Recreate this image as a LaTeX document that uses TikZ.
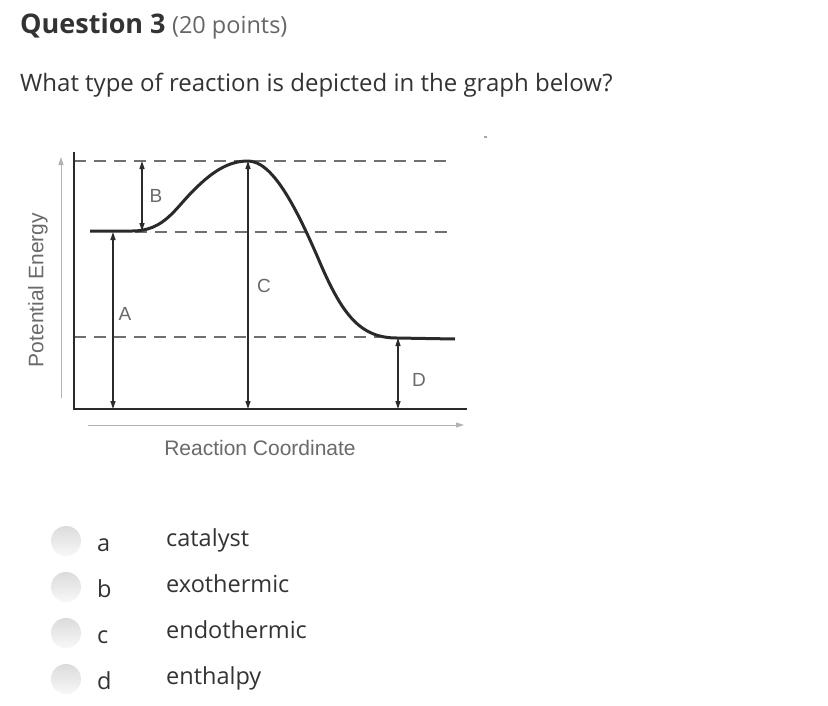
\documentclass[tikz,border=0pt]{standalone}
\usepackage{fontspec}
\setmainfont{Open Sans}
\newfontfamily\graphfont{Liberation Sans}
\usetikzlibrary{arrows.meta}
\definecolor{qtext}{HTML}{333333}
\definecolor{qgray}{HTML}{666666}
\definecolor{gline}{HTML}{2A2A2A}
\definecolor{gdash}{HTML}{707070}
\definecolor{glabel}{HTML}{6A6A6A}
\tikzset{
  title/.style={anchor=base west, inner sep=0pt, text=qtext},
  dimarrow/.style={draw=gline, line width=1.2pt, {Triangle[length=8pt,width=5pt]}-{Triangle[length=8pt,width=5pt]}},
  guide/.style={draw=gdash, line width=1.5pt, dash pattern=on 12pt off 8pt},
  axisarrow/.style={draw=gray!60, line width=1pt, -{Triangle[length=8pt,width=5pt]}},
  glbl/.style={font=\graphfont\fontsize{19}{19}\selectfont, text=glabel, inner sep=0pt},
  radio/.style={top color=gray!28, bottom color=gray!6, draw=none},
  opt/.style={anchor=base west, inner sep=0pt, text=qtext, font=\fontsize{23.5}{23.5}\selectfont}
}
\begin{document}
\begin{tikzpicture}[x=1pt,y=-1pt]
\useasboundingbox[fill=white] (0,0) rectangle (828,705);
% header
\node[title, font=\bfseries\fontsize{27}{27}\selectfont] (q) at (20,33) {Question 3};
\node[title, font=\fontsize{23.5}{23.5}\selectfont, text=qgray] (pts) at ([xshift=6pt]q.base east) {(20 points)};
\node[title, font=\fontsize{24}{24}\selectfont] (ask) at (20,91) {What type of reaction is depicted in the graph below?};
\node[fill=gray!70, minimum width=3pt, minimum height=1.5pt, inner sep=0pt] (dot) at (485,137) {};
% graph coordinates
\coordinate (O) at (74,409);
\coordinate (Ytop) at (74,152);
\coordinate (Xend) at (467,409);
\coordinate (hiL) at (74,161); \coordinate (hiR) at (452,161);
\coordinate (midL) at (135,232); \coordinate (midR) at (452,232);
\coordinate (loL) at (74,337); \coordinate (loR) at (380,337);
% dashed guide lines
\draw[guide] (hiL) -- (hiR);
\draw[guide] (midL) -- (midR);
\draw[guide] (loL) -- (loR);
% axes
\draw[gline, line width=2pt] (Ytop) -- (O) -- (Xend);
\coordinate (ya) at (61,398); \coordinate (yb) at (61,157);
\draw[axisarrow] (ya) -- (yb);
\coordinate (xa) at (88,425); \coordinate (xb) at (464,425);
\draw[axisarrow] (xa) -- (xb);
% energy curve
\coordinate (s0) at (90,231);
\coordinate (s1) at (132,231);
\coordinate (pk) at (248,161);
\coordinate (pr) at (397,338);
\coordinate (s2) at (455,339);
\draw[gline, line width=3pt] (s0) -- (s1) .. controls (165,231) and (175,208) .. (195,189) .. controls (214,170) and (230,161) .. (pk) .. controls (272,161) and (295,205) .. (318,258) .. controls (342,315) and (360,338) .. (pr) -- (s2);
% dimension arrows
\coordinate (a1) at (113,232); \coordinate (a2) at (113,409);
\draw[dimarrow] (a1) -- (a2);
\coordinate (b1) at (142,161); \coordinate (b2) at (142,231);
\draw[dimarrow] (b1) -- (b2);
\coordinate (c1) at (248,161); \coordinate (c2) at (248,409);
\draw[dimarrow] (c1) -- (c2);
\coordinate (d1) at (398,338); \coordinate (d2) at (398,409);
\draw[dimarrow] (d1) -- (d2);
% labels
\node[glbl] (lA) at (125,314) {A};
\node[glbl] (lB) at (156,196) {B};
\node[glbl] (lC) at (264,286) {C};
\node[glbl] (lD) at (419,380) {D};
\node[glbl, rotate=90, font=\graphfont\fontsize{21}{21}\selectfont] (ylab) at (38,290) {Potential Energy};
\node[glbl, font=\graphfont\fontsize{21}{21}\selectfont] (xlab) at (260,448) {Reaction Coordinate};
% options
\shade[radio] (66,541) circle (15);
\shade[radio] (66,587) circle (15);
\shade[radio] (66,633) circle (15);
\shade[radio] (66,679) circle (15);
\node[opt] (oa) at (97,551) {a};
\node[opt] (ob) at (97,597) {b};
\node[opt] (oc) at (97,643) {c};
\node[opt] (od) at (97,689) {d};
\node[opt] (ta) at (166,546) {catalyst};
\node[opt] (tb) at (166,592) {exothermic};
\node[opt] (tc) at (166,638) {endothermic};
\node[opt] (td) at (166,684) {enthalpy};
\end{tikzpicture}
\end{document}
